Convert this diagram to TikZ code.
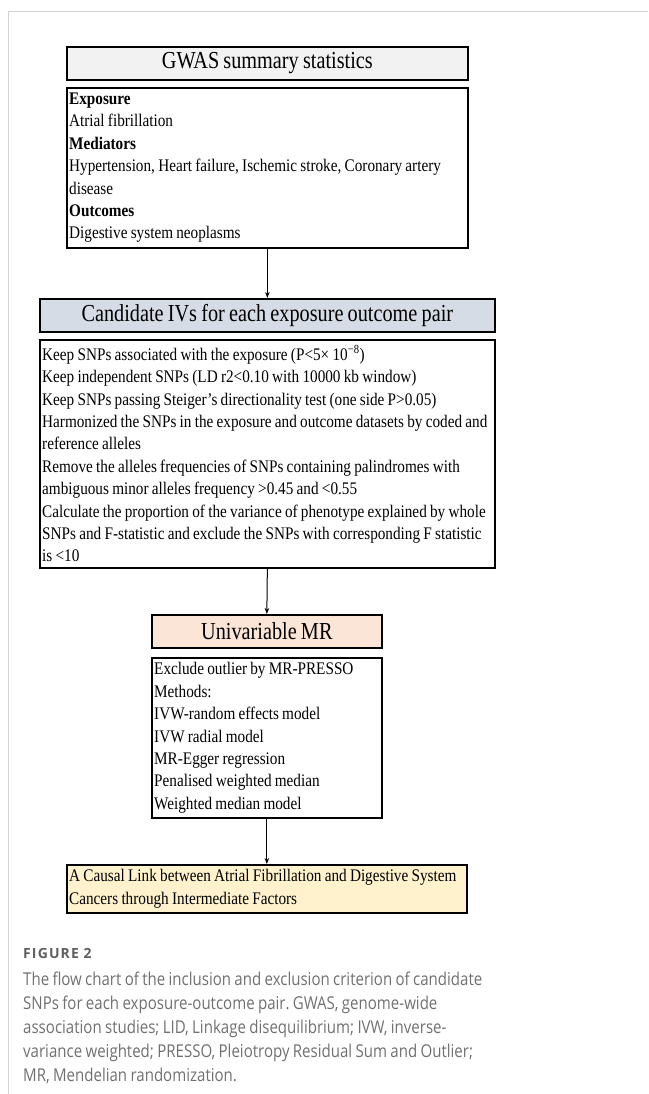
\documentclass[tikz,border=0pt]{standalone}
\usepackage{fontspec}
\setmainfont[FakeStretch=0.86,WordSpace=0.86]{Liberation Serif}
\newfontfamily\hdrfont[FakeStretch=0.83,WordSpace=0.83]{Liberation Serif}
\newfontfamily\capfont[FakeStretch=0.85,WordSpace=0.85]{Open Sans}
\newfontfamily\figfont[LetterSpace=8]{Open Sans}
\usetikzlibrary{arrows.meta}
\definecolor{hdrgray}{HTML}{F2F2F2}
\definecolor{hdrblue}{HTML}{D6DCE5}
\definecolor{hdrpeach}{HTML}{FBE5D6}
\definecolor{resyellow}{HTML}{FFF2CC}
\definecolor{framegray}{HTML}{D4D4D4}
\definecolor{capgray}{HTML}{707070}
\begin{document}
\frenchspacing
\begin{tikzpicture}[x=1pt,y=-1pt,
  hdr/.style={draw=black, line width=1.7pt, anchor=north west, inner sep=0pt,
    font=\hdrfont\fontsize{24.4}{28}\selectfont, align=center},
  frame/.style={draw=black, line width=1.7pt, anchor=north west, inner sep=0pt},
  body/.style={anchor=west, inner xsep=0pt, inner ysep=0pt,
    align=left, font=\fontsize{17.7}{22.4}\selectfont},
  arr/.style={-{Stealth[length=6pt,width=4.5pt]}, line width=1pt},
  captxt/.style={anchor=north west, inner sep=0pt, align=left, text=capgray}]
\useasboundingbox (0,0) rectangle (648,1094);
\draw[framegray, line width=1pt] (648,12) -- (8,12) -- (8,1094);

\node[hdr, fill=hdrgray, minimum width=401pt, minimum height=33pt] (gwas) at (66,46) {GWAS summary statistics};
\node[frame, minimum width=401pt, minimum height=160pt] (expo) at (66,87) {};
\node[body] (expoT) at ([xshift=3pt]expo.west)
 {\textbf{Exposure}\\
  Atrial fibrillation\\
  \textbf{Mediators}\\
  Hypertension, Heart failure, Ischemic stroke, Coronary artery\\
  disease\\
  \textbf{Outcomes}\\
  Digestive system neoplasms};

\node[hdr, fill=hdrblue, minimum width=455pt, minimum height=33pt] (cand) at (39,298) {Candidate IVs for each exposure outcome pair};
\node[frame, minimum width=455pt, minimum height=228pt] (crit) at (39,339) {};
\node[body] (critT) at ([xshift=3pt]crit.west)
 {Keep SNPs associated with the exposure (P<5× 10\textsuperscript{−8})\\
  Keep independent SNPs (LD r2<0.10 with 10000 kb window)\\
  Keep SNPs passing Steiger’s directionality test (one side P>0.05)\\
  Harmonized the SNPs in the exposure and outcome datasets by coded and\\
  reference alleles\\
  Remove the alleles frequencies of SNPs containing palindromes with\\
  ambiguous minor alleles frequency >0.45 and <0.55\\
  Calculate the proportion of the variance of phenotype explained by whole\\
  SNPs and F-statistic and exclude the SNPs with corresponding F statistic\\
  is <10};

\node[hdr, fill=hdrpeach, minimum width=230pt, minimum height=33pt] (uni) at (151,614) {Univariable MR};
\node[frame, minimum width=230pt, minimum height=160pt] (meth) at (151,657) {};
\node[body] (methT) at ([xshift=3pt]meth.west)
 {Exclude outlier by MR-PRESSO\\
  Methods:\\
  IVW-random effects model\\
  IVW radial model\\
  MR-Egger regression\\
  Penalised weighted median\\
  Weighted median model};

\node[frame, fill=resyellow, minimum width=400pt, minimum height=48pt] (res) at (66,864) {};
\node[body] (resT) at ([xshift=3pt]res.west)
 {A Causal Link between Atrial Fibrillation and Digestive System\\
  Cancers through Intermediate Factors};

\draw[arr] (expo.south) -- (cand.north);
\draw[arr] (crit.south) -- (uni.north);
\draw[arr] (meth.south) -- (res.north);

\node[captxt, font=\figfont\bfseries\fontsize{14}{16}\selectfont, text=capgray!85!black] (fig) at (23,948) {FIGURE 2};
\node[captxt, font=\capfont\fontsize{17.7}{24}\selectfont] (captext) at (23,972)
 {The flow chart of the inclusion and exclusion criterion of candidate\\
  SNPs for each exposure-outcome pair. GWAS, genome-wide\\
  association studies; LID, Linkage disequilibrium; IVW, inverse-\\
  variance weighted; PRESSO, Pleiotropy Residual Sum and Outlier;\\
  MR, Mendelian randomization.};
\end{tikzpicture}
\end{document}
